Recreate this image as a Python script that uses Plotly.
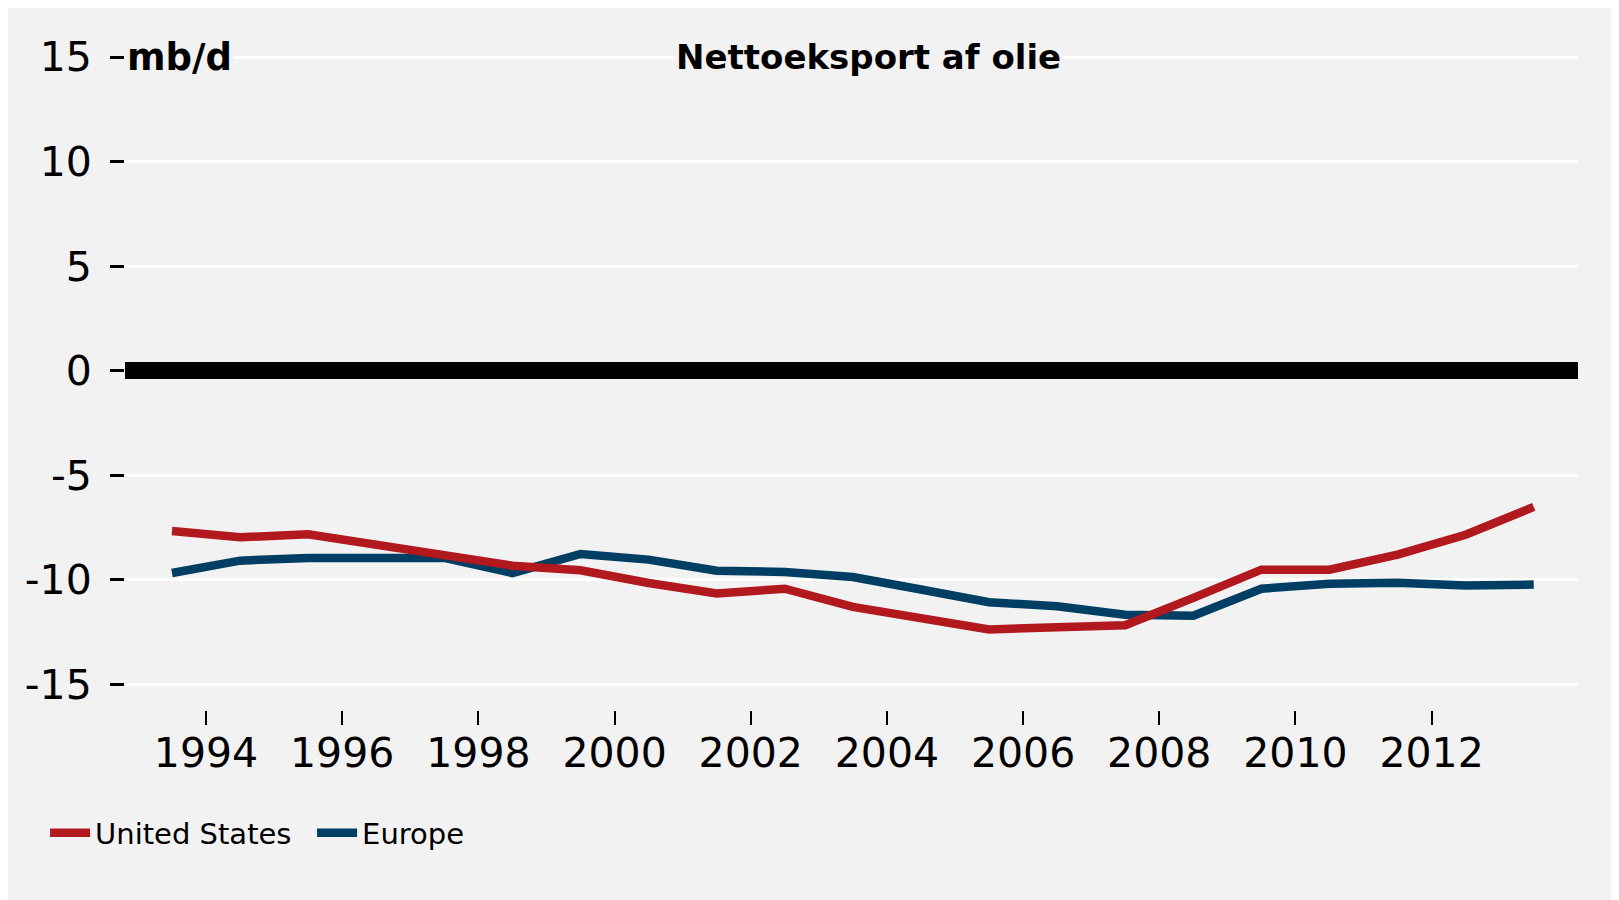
import plotly.graph_objects as go

# Nettoeksport af olie, mb/d (årlige værdier)
years = list(range(1993, 2014))
us = [-7.66, -7.96, -7.82, -8.31, -8.87, -9.32, -9.54, -10.15, -10.65, -10.42, -11.29,
      -11.86, -12.37, -12.26, -12.17, -10.86, -9.51, -9.51, -8.79, -7.84, -6.51]
europe = [-9.67, -9.08, -8.95, -8.92, -8.95, -9.67, -8.76, -9.03, -9.56, -9.62, -9.86,
          -10.46, -11.07, -11.26, -11.66, -11.71, -10.42, -10.18, -10.14, -10.27, -10.22]
x_ticks = [1994, 1996, 1998, 2000, 2002, 2004, 2006, 2008, 2010, 2012]
y_ticks = [-15, -10, -5, 0, 5, 10, 15]
y_labels = ["-15", "-10", "-5", "0", "5", "10", "15"]
title_text = "Nettoeksport af olie"
unit_text = "mb/d"

RED = "#B2191F"
BLUE = "#003E63"
BG = "#F2F2F2"
FONT = "DejaVu Sans"

# hver årsværdi placeres midt i året
x_mid = [y + 0.5 for y in years]

fig = go.Figure()
fig.add_trace(go.Scatter(x=x_mid, y=europe, mode="lines", name="Europe",
                         line=dict(color=BLUE, width=8.5), legendrank=2))
fig.add_trace(go.Scatter(x=x_mid, y=us, mode="lines", name="United States",
                         line=dict(color=RED, width=8.5), legendrank=1))

fig.add_annotation(text=title_text, xref="paper", yref="y", x=0.512, y=15,
                   showarrow=False, font=dict(family=FONT, size=34, color="black", weight="bold"),
                   bgcolor=BG, xanchor="center", yanchor="middle")
fig.add_annotation(text=unit_text, xref="paper", yref="y", x=0.0, y=15,
                   showarrow=False, font=dict(family=FONT, size=37, color="black", weight="bold"),
                   bgcolor=BG, xanchor="left", yanchor="middle")

# figuren fylder vinduet ud (8 px sidemargen i browseren)
fig.update_layout(
    width=1611, height=892,
    margin=dict(l=117, r=41, t=48, b=190),
    paper_bgcolor=BG,
    plot_bgcolor=BG,
    font=dict(family=FONT, color="black"),
    showlegend=True,
    legend=dict(orientation="h", x=-0.055, xanchor="left", y=-0.188, yanchor="middle",
                font=dict(family=FONT, size=29, color="black"),
                bgcolor="rgba(0,0,0,0)", itemwidth=40, entrywidth=212),
    xaxis=dict(range=[1992.81, 2014.15], tickvals=x_ticks,
               showgrid=False, zeroline=False, showline=False,
               ticks="outside", ticklen=14, tickwidth=2, tickcolor="black",
               ticklabelstandoff=-7,
               tickfont=dict(family=FONT, size=41, color="black")),
    yaxis=dict(range=[-16.22, 15.05], tickvals=y_ticks, ticktext=y_labels,
               showgrid=True, gridcolor="white", gridwidth=3,
               zeroline=True, zerolinecolor="black", zerolinewidth=17,
               showline=False,
               ticks="outside", ticklen=14, tickwidth=3, tickcolor="black",
               ticklabelstandoff=10,
               tickfont=dict(family=FONT, size=41, color="black")),
)

fig.write_html("out.html")
